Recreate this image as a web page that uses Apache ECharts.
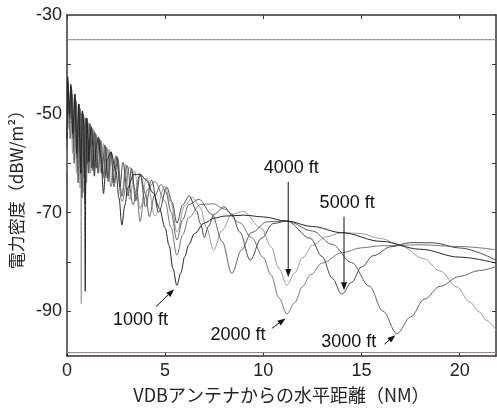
<!DOCTYPE html>
<html><head><meta charset="utf-8">
<script src="https://cdn.jsdelivr.net/npm/echarts@6/dist/echarts.min.js"></script>
<style>html,body{margin:0;padding:0;background:#fff}#c{width:497px;height:409px}</style>
</head><body><div id="c"></div>
<script>
const xTickLabels = [0, 5, 10, 15, 20];
const xMinorTicks = [0, 5, 10, 15, 20];
const yTickLabels = [-90, -70, -50, -30];
const yMinorTicks = [-90, -80, -70, -60, -50, -40];
const xMin = 0, xMax = 21.85, yMin = -99, yMax = -30;
const xName = 'VDBアンテナからの水平距離（NM）';
const yName = '電力密度（dBW/m²）';

const s1000 = [[0.0,-55],[0.04,-42.5],[0.12,-50],[0.2,-44],[0.3,-54],[0.4,-46],[0.5,-58],[0.6,-48],[0.7,-62],[0.78,-49.5],[0.86,-52],[0.9,-62],[0.933,-85.9],[0.96,-62],[1.02,-50.9],[1.07,-55],[1.12,-59.7],[1.17,-55],[1.244,-52.6],[1.32,-56.5],[1.4,-62.6],[1.48,-57],[1.6,-54.8],[1.72,-58.5],[1.867,-66.1],[1.95,-62.5],[2.05,-59.2],[2.24,-57.7],[2.5,-61.7],[2.65,-67.0],[2.8,-72.5],[2.95,-68.5],[3.1,-64.95],[3.4,-62.3],[3.73,-62.2],[4.0,-63.25],[4.4,-66.0],[4.7,-69.0],[5.0,-73.05],[5.2,-76.6],[5.4,-81.3],[5.6,-84.7],[5.8,-82.2],[6.0,-78.9],[6.2,-76.5],[6.5,-74.2],[7.0,-72.1],[7.5,-71.1],[8.0,-70.7],[9.0,-70.5],[10.0,-70.85],[11.2,-71.7],[12.5,-72.8],[14,-74.05],[16,-75.8],[18,-77.4],[20,-79.0],[21.85,-80.2]];

const s2000 = [[0.0,-60],[0.06,-44.5],[0.15,-52],[0.24,-45],[0.34,-57],[0.44,-47],[0.54,-61],[0.64,-48.5],[0.74,-64],[0.83,-50],[0.933,-66],[1.018,-51],[1.12,-62],[1.178,-52],[1.244,-61],[1.317,-53],[1.4,-60.6],[1.49,-54.2],[1.6,-62],[1.72,-55.4],[1.867,-63],[2.036,-56.9],[2.24,-64.7],[2.49,-58.6],[2.8,-67.7],[3.2,-60.8],[3.55,-66.2],[3.73,-71.8],[3.9,-67.8],[4.1,-65.3],[4.48,-63.7],[5.0,-67.7],[5.3,-73.0],[5.6,-78.6],[5.9,-74.5],[6.2,-71.0],[6.8,-68.35],[7.47,-68.2],[8.0,-69.25],[8.8,-72.0],[9.4,-75.0],[10,-79.05],[10.4,-82.65],[10.8,-87.3],[11.2,-90.5],[11.6,-88.2],[12,-84.9],[12.4,-82.6],[13,-80.2],[14,-78.1],[15,-77.1],[16,-76.7],[18,-76.5],[20,-76.85],[21.85,-77.5]];

const s3000 = [[0.0,-64],[0.07,-46],[0.17,-55],[0.27,-46],[0.37,-60],[0.47,-47.5],[0.57,-64],[0.67,-49],[0.77,-67],[0.86,-50.5],[0.933,-68],[1.0,-51.5],[1.1,-62],[1.2,-52.5],[1.32,-61.5],[1.45,-54],[1.58,-62],[1.72,-55.5],[1.867,-62.5],[1.977,-56.6],[2.1,-63.7],[2.24,-57.7],[2.4,-64.8],[2.585,-59.0],[2.8,-66.7],[3.055,-60.4],[3.36,-68.4],[3.73,-62.2],[4.0,-66.2],[4.2,-70.8],[4.45,-66.6],[4.8,-64.3],[5.04,-65.85],[5.3,-69.9],[5.6,-75.5],[5.9,-71.35],[6.2,-68.4],[6.72,-67.3],[7.4,-70.4],[7.9,-75.8],[8.4,-82.3],[8.9,-77.5],[9.4,-74.0],[10.2,-71.85],[11.2,-71.7],[12.5,-73.7],[13.5,-76.4],[14.5,-80.1],[15.4,-84.9],[16.1,-89.95],[16.8,-94.5],[17.5,-91.1],[18.2,-87.5],[19,-84.9],[20,-82.9],[21,-81.7],[21.85,-80.9]];

const s4000 = [[0.0,-62],[0.03,-46],[0.1,-53],[0.19,-45],[0.29,-58],[0.39,-46.5],[0.49,-62],[0.59,-48],[0.67,-65],[0.7,-49.5],[0.73,-88.4],[0.76,-50],[0.84,-66],[0.93,-51],[1.0,-64],[1.08,-51.8],[1.2,-62],[1.32,-53.2],[1.45,-61],[1.58,-54.6],[1.72,-62],[1.86,-56],[2.0,-63],[2.15,-57.2],[2.3,-64],[2.5,-58.5],[2.8,-66.2],[2.987,-60.2],[3.2,-67.3],[3.446,-61.5],[3.73,-69.2],[4.07,-62.9],[4.48,-70.7],[4.98,-64.7],[5.3,-68.0],[5.6,-73.9],[6.0,-68.6],[6.4,-66.84],[6.78,-68.9],[7.1,-72.9],[7.47,-77.6],[7.9,-73.55],[8.4,-70.3],[8.96,-69.76],[9.9,-73.1],[10.4,-76.96],[10.8,-81.3],[11.2,-84.7],[11.6,-82.2],[12,-79.1],[12.5,-76.6],[13.2,-74.9],[14,-74.05],[14.93,-74.2],[16,-75.25],[17,-76.7],[18.16,-79.3],[19,-81.8],[19.85,-85.0],[20.5,-88],[21,-90.1],[21.37,-91.8],[21.85,-93.8]];

const s5000 = [[0.0,-57],[0.05,-43.5],[0.14,-51],[0.22,-44.5],[0.32,-55],[0.42,-46],[0.52,-59],[0.62,-48],[0.72,-62],[0.8,-49.5],[0.88,-63],[0.96,-50.8],[1.05,-60],[1.15,-52],[1.27,-61],[1.4,-53.6],[1.52,-61],[1.65,-55],[1.78,-62],[1.93,-56.3],[2.08,-63],[2.24,-57.7],[2.4,-64],[2.55,-58.6],[2.7,-64.8],[2.85,-59.8],[3.11,-66.6],[3.294,-61.1],[3.5,-67.6],[3.733,-62.2],[4.0,-68.8],[4.31,-63.4],[4.67,-69.9],[5.09,-64.85],[5.35,-67.8],[5.6,-72.1],[5.9,-68.4],[6.22,-66.6],[6.6,-69.6],[6.8,-72.2],[7.0,-75.0],[7.2,-72.8],[7.5,-70.3],[8.0,-68.8],[8.4,-70.3],[8.8,-73.9],[9.33,-79.6],[9.9,-75.2],[10.5,-72.2],[11.2,-71.7],[12.4,-75.2],[13,-78.9],[13.5,-83.2],[14,-86.5],[14.5,-84.1],[15,-81.0],[15.6,-78.7],[16.5,-76.9],[17.5,-76.05],[18.67,-76.1],[20,-77.15],[21.85,-79.6]];

const refLineTop = -35;
const refLineBottom = -98.3;

const annotations = [
  {text: '1000 ft', at: [3.75, -91.7], from: [4.54, -89.0], to: [5.46, -85.5]},
  {text: '2000 ft', at: [8.71, -94.8], from: [10.44, -93.4], to: [11.13, -91.4]},
  {text: '3000 ft', at: [14.35, -96.1], from: [16.17, -96.6], to: [16.73, -94.8]},
  {text: '4000 ft', at: [11.42, -61.0], from: [11.27, -63.8], to: [11.27, -83.0]},
  {text: '5000 ft', at: [14.27, -68.1], from: [14.11, -70.8], to: [14.11, -85.7]}
];

const curveDefs = [
  {name: '4000 ft', data: s4000, color: '#9c9c9c'},
  {name: '2000 ft', data: s2000, color: '#777777'},
  {name: '3000 ft', data: s3000, color: '#606060'},
  {name: '5000 ft', data: s5000, color: '#4a4a4a'},
  {name: '1000 ft', data: s1000, color: '#262626'}
];

const chart = echarts.init(document.getElementById('c'), null, {renderer: 'canvas'});
const axisLineStyle = {color: '#333', width: 1.5};
const tickStyle = {color: '#333', width: 1};
const labelFont = {fontFamily: 'Liberation Sans', fontSize: 18, color: '#222'};

const series = curveDefs.map(c => ({
  name: c.name, type: 'line', data: c.data, showSymbol: false, symbol: 'none',
  smooth: 0.35, smoothMonotone: 'x',
  lineStyle: {width: 1, color: c.color}, itemStyle: {color: c.color},
  silent: true, z: 3
}));

function refLine(yv, color, offset) {
  return {type: 'line', data: [[xMin, yv], [xMax, yv]], showSymbol: false, symbol: 'none', silent: true,
    lineStyle: {width: 1, color: color, type: [2, 2], dashOffset: offset}, z: 2};
}
series.push(refLine(refLineTop, '#c9803e', 0));
series.push(refLine(refLineTop, '#5a78a8', 2));
series.push(refLine(refLineBottom, '#c9803e', 0));
series.push(refLine(refLineBottom, '#5a78a8', 2));

chart.setOption({
  animation: false,
  backgroundColor: '#fff',
  grid: {left: 64, right: 1, top: 15, bottom: 53, show: false},
  xAxis: [
    {type: 'value', min: xMin, max: xMax, position: 'bottom',
      axisLine: {show: true, onZero: false, lineStyle: axisLineStyle},
      axisTick: {show: true, inside: true, length: 4, customValues: xMinorTicks, lineStyle: tickStyle},
      axisLabel: Object.assign({show: true, margin: 6, customValues: xTickLabels}, labelFont),
      splitLine: {show: false},
      name: xName, nameLocation: 'middle', nameGap: 30,
      nameTextStyle: {fontFamily: 'Noto Sans CJK JP', fontSize: 18, color: '#222'}},
    {type: 'value', min: xMin, max: xMax, position: 'top',
      axisLine: {show: true, onZero: false, lineStyle: axisLineStyle},
      axisTick: {show: true, inside: true, length: 4, customValues: xMinorTicks, lineStyle: tickStyle},
      axisLabel: {show: false}, splitLine: {show: false}}
  ],
  yAxis: [
    {type: 'value', min: yMin, max: yMax, position: 'left',
      axisLine: {show: true, onZero: false, lineStyle: axisLineStyle},
      axisTick: {show: true, inside: true, length: 4, customValues: yMinorTicks, lineStyle: tickStyle},
      axisLabel: Object.assign({show: true, margin: 5, customValues: yTickLabels}, labelFont),
      splitLine: {show: false},
      name: yName, nameLocation: 'middle', nameGap: 36, nameRotate: 90,
      nameTextStyle: {fontFamily: 'Noto Sans CJK JP', fontSize: 17, color: '#222'}},
    {type: 'value', min: yMin, max: yMax, position: 'right',
      axisLine: {show: true, onZero: false, lineStyle: axisLineStyle},
      axisTick: {show: true, inside: true, length: 4, customValues: yMinorTicks, lineStyle: tickStyle},
      axisLabel: {show: false}, splitLine: {show: false}}
  ],
  series: series
});

const graphics = [];
annotations.forEach(a => {
  const p = chart.convertToPixel({gridIndex: 0}, a.at);
  const f = chart.convertToPixel({gridIndex: 0}, a.from);
  const t = chart.convertToPixel({gridIndex: 0}, a.to);
  graphics.push({type: 'text', x: p[0], y: p[1], z: 10, silent: true,
    style: {text: a.text, fontFamily: 'Liberation Sans', fontSize: 18, fill: '#111', align: 'center', verticalAlign: 'middle'}});
  const dx = t[0] - f[0], dy = t[1] - f[1];
  const len = Math.sqrt(dx * dx + dy * dy);
  const ux = dx / len, uy = dy / len;
  const hl = 8, hw = 3;
  const bx = t[0] - ux * hl, by = t[1] - uy * hl;
  graphics.push({type: 'line', z: 10, silent: true, shape: {x1: f[0], y1: f[1], x2: bx, y2: by},
    style: {stroke: '#111', lineWidth: 1}});
  graphics.push({type: 'polygon', z: 10, silent: true,
    shape: {points: [[t[0], t[1]], [bx - uy * hw, by + ux * hw], [bx + uy * hw, by - ux * hw]]},
    style: {fill: '#111'}});
});
chart.setOption({graphic: graphics});
</script>
</body></html>
